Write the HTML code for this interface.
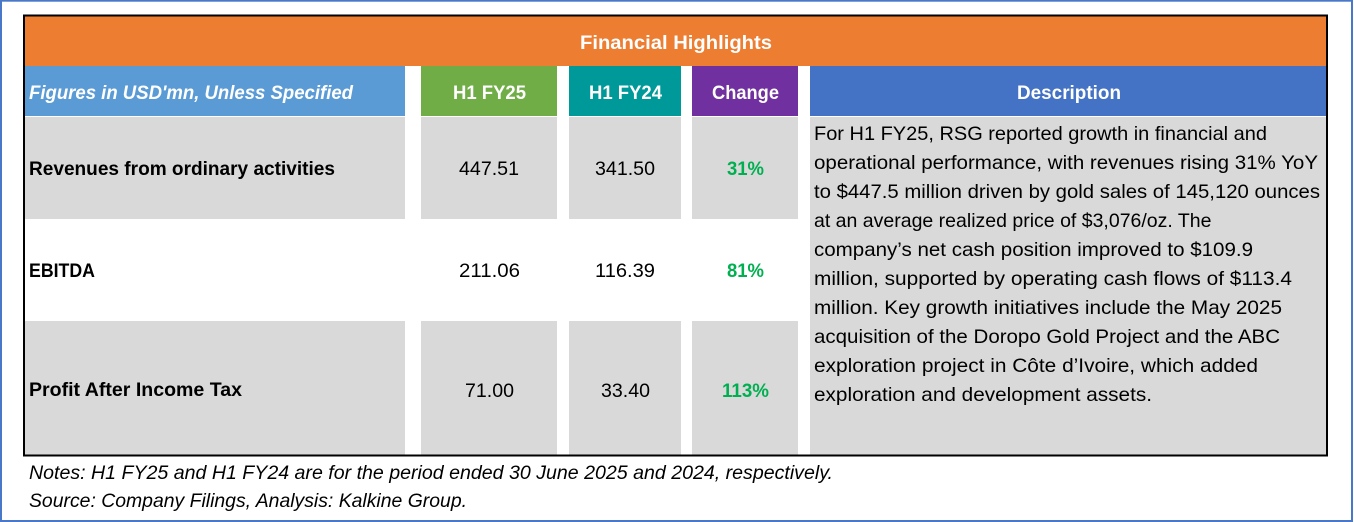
<!DOCTYPE html>
<html>
<head>
<meta charset="utf-8">
<style>
  html, body { margin: 0; padding: 0; background: #ffffff; }
  svg { display: block; }
  text { font-family: "Liberation Sans", "DejaVu Sans", sans-serif; }
</style>
</head>
<body>
<svg width="1354" height="522" viewBox="0 0 1354 522" xmlns="http://www.w3.org/2000/svg">
  <rect x="0" y="0" width="1354" height="522" fill="#ffffff"/>
  <!-- outer frame -->
  <rect x="1" y="0.7" width="1351" height="520.3" fill="none" stroke="#4A78C8" stroke-width="2"/>

  <!-- title bar -->
  <rect x="24" y="16" width="1303" height="50" fill="#ED7D31"/>
  <text x="580" y="49" font-size="19.5" font-weight="bold" fill="#ffffff" textLength="192" lengthAdjust="spacingAndGlyphs">Financial Highlights</text>

  <!-- header row -->
  <rect x="24" y="66" width="381" height="50" fill="#5B9BD5"/>
  <rect x="421" y="66" width="136" height="50" fill="#70AD47"/>
  <rect x="569" y="66" width="112" height="50" fill="#009999"/>
  <rect x="692" y="66" width="106" height="50" fill="#7030A0"/>
  <rect x="810" y="66" width="517" height="50" fill="#4472C4"/>

  <text x="29" y="99" font-size="19.5" font-weight="bold" font-style="italic" fill="#ffffff" textLength="324" lengthAdjust="spacingAndGlyphs">Figures in USD'mn, Unless Specified</text>
  <text x="453" y="99" font-size="19.5" font-weight="bold" fill="#ffffff" textLength="73" lengthAdjust="spacingAndGlyphs">H1 FY25</text>
  <text x="589" y="99" font-size="19.5" font-weight="bold" fill="#ffffff" textLength="73" lengthAdjust="spacingAndGlyphs">H1 FY24</text>
  <text x="712" y="99" font-size="19.5" font-weight="bold" fill="#ffffff" textLength="67" lengthAdjust="spacingAndGlyphs">Change</text>
  <text x="1017" y="99" font-size="19.5" font-weight="bold" fill="#ffffff" textLength="104" lengthAdjust="spacingAndGlyphs">Description</text>

  <!-- row 1 (grey) -->
  <rect x="24" y="117" width="381" height="102" fill="#D9D9D9"/>
  <rect x="421" y="117" width="136" height="102" fill="#D9D9D9"/>
  <rect x="569" y="117" width="112" height="102" fill="#D9D9D9"/>
  <rect x="692" y="117" width="106" height="102" fill="#D9D9D9"/>

  <!-- row 3 (grey) -->
  <rect x="24" y="321" width="381" height="134" fill="#D9D9D9"/>
  <rect x="421" y="321" width="136" height="134" fill="#D9D9D9"/>
  <rect x="569" y="321" width="112" height="134" fill="#D9D9D9"/>
  <rect x="692" y="321" width="106" height="134" fill="#D9D9D9"/>

  <!-- description body -->
  <rect x="810" y="117" width="517" height="338" fill="#D9D9D9"/>

  <!-- row labels -->
  <text x="29" y="175" font-size="19.5" font-weight="bold" fill="#000000" textLength="306" lengthAdjust="spacingAndGlyphs">Revenues from ordinary activities</text>
  <text x="29" y="277" font-size="19.5" font-weight="bold" fill="#000000" textLength="66" lengthAdjust="spacingAndGlyphs">EBITDA</text>
  <text x="29" y="396" font-size="19.5" font-weight="bold" fill="#000000" textLength="213" lengthAdjust="spacingAndGlyphs">Profit After Income Tax</text>

  <!-- values -->
  <text x="459" y="175" font-size="19.5" fill="#000000" textLength="60" lengthAdjust="spacingAndGlyphs">447.51</text>
  <text x="595" y="175" font-size="19.5" fill="#000000" textLength="60" lengthAdjust="spacingAndGlyphs">341.50</text>
  <text x="727" y="175" font-size="19.5" font-weight="bold" fill="#00B050" textLength="37" lengthAdjust="spacingAndGlyphs">31%</text>

  <text x="459" y="277" font-size="19.5" fill="#000000" textLength="61" lengthAdjust="spacingAndGlyphs">211.06</text>
  <text x="595" y="277" font-size="19.5" fill="#000000" textLength="60" lengthAdjust="spacingAndGlyphs">116.39</text>
  <text x="727" y="277" font-size="19.5" font-weight="bold" fill="#00B050" textLength="37" lengthAdjust="spacingAndGlyphs">81%</text>

  <text x="465" y="397" font-size="19.5" fill="#000000" textLength="49" lengthAdjust="spacingAndGlyphs">71.00</text>
  <text x="601" y="397" font-size="19.5" fill="#000000" textLength="49" lengthAdjust="spacingAndGlyphs">33.40</text>
  <text x="722" y="397" font-size="19.5" font-weight="bold" fill="#00B050" textLength="47" lengthAdjust="spacingAndGlyphs">113%</text>

  <!-- description text -->
  <g font-size="19.5" fill="#000000">
    <text x="814" y="140" textLength="453" lengthAdjust="spacingAndGlyphs">For H1 FY25, RSG reported growth in financial and</text>
    <text x="814" y="169" textLength="504" lengthAdjust="spacingAndGlyphs">operational performance, with revenues rising 31% YoY</text>
    <text x="814" y="198" textLength="506" lengthAdjust="spacingAndGlyphs">to $447.5 million driven by gold sales of 145,120 ounces</text>
    <text x="814" y="227">at an average realized price of $3,076/oz. The</text>
    <text x="814" y="256" textLength="439" lengthAdjust="spacingAndGlyphs">company’s net cash position improved to $109.9</text>
    <text x="814" y="285" textLength="478" lengthAdjust="spacingAndGlyphs">million, supported by operating cash flows of $113.4</text>
    <text x="814" y="314" textLength="468" lengthAdjust="spacingAndGlyphs">million. Key growth initiatives include the May 2025</text>
    <text x="814" y="343" textLength="466" lengthAdjust="spacingAndGlyphs">acquisition of the Doropo Gold Project and the ABC</text>
    <text x="814" y="372" textLength="444" lengthAdjust="spacingAndGlyphs">exploration project in Côte d’Ivoire, which added</text>
    <text x="814" y="401" textLength="338" lengthAdjust="spacingAndGlyphs">exploration and development assets.</text>
  </g>

  <!-- table border -->
  <rect x="24" y="15.5" width="1303" height="440" fill="none" stroke="#000000" stroke-width="2"/>

  <!-- notes -->
  <text x="29" y="479" font-size="19.5" font-style="italic" fill="#000000" textLength="804" lengthAdjust="spacingAndGlyphs">Notes: H1 FY25 and H1 FY24 are for the period ended 30 June 2025 and 2024, respectively.</text>
  <text x="29" y="507" font-size="19.5" font-style="italic" fill="#000000" textLength="438" lengthAdjust="spacingAndGlyphs">Source: Company Filings, Analysis: Kalkine Group.</text>
</svg>
</body>
</html>
